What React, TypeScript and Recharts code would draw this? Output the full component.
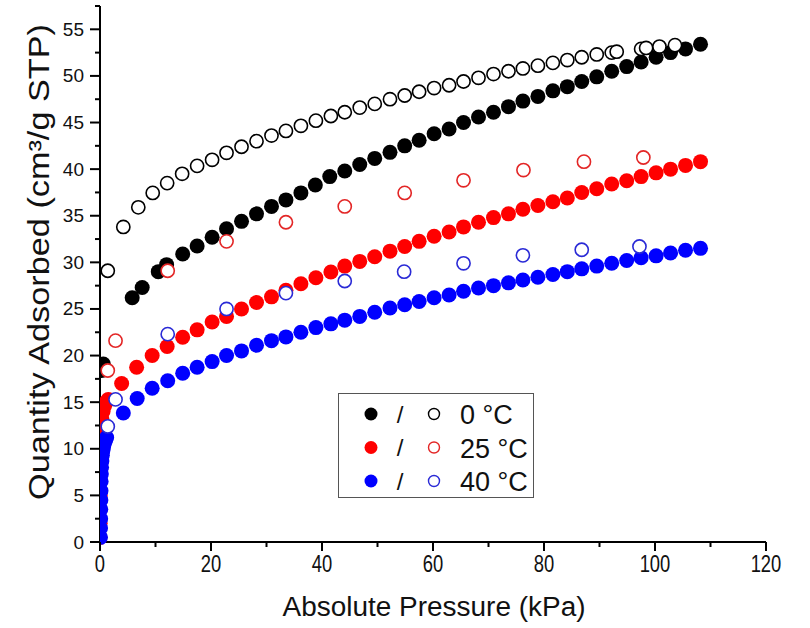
import React from 'react';
import { ScatterChart, Scatter, XAxis, YAxis } from 'recharts';

// 0 °C adsorption (filled) and desorption (open)
const filled0: [number, number][] = [
  [0.05, 14], [0.3, 18.4], [0.6, 19.1],
  [5.8, 26.2], [7.6, 27.3], [10.5, 29.0], [12.0, 29.75], [14.9, 30.9], [17.5, 31.75], [20.2, 32.7],
  [22.8, 33.6], [25.5, 34.4], [28.2, 35.2], [30.9, 36.0], [33.5, 36.7], [36.2, 37.45], [38.8, 38.3],
  [41.4, 39.2], [44.1, 39.8], [46.8, 40.5], [49.5, 41.15], [52.25, 41.8], [54.9, 42.5], [57.5, 43.1],
  [60.2, 43.8], [62.9, 44.3], [65.5, 45.0], [68.2, 45.6], [70.9, 46.1], [73.6, 46.7], [76.2, 47.3],
  [78.9, 47.8], [81.6, 48.4], [84.2, 48.85], [86.8, 49.4], [89.5, 49.9], [92.2, 50.5], [94.9, 51.0],
  [97.5, 51.5], [100.2, 52.0], [102.8, 52.5], [105.5, 52.9], [108.2, 53.4],
];
const open0: [number, number][] = [
  [1.4, 29.1], [4.2, 33.8], [6.9, 35.9], [9.5, 37.45], [12.1, 38.5], [14.8, 39.5], [17.5, 40.35],
  [20.2, 41.0], [22.8, 41.75], [25.5, 42.4], [28.2, 43.0], [30.9, 43.6], [33.5, 44.1], [36.2, 44.65],
  [38.9, 45.2], [41.6, 45.7], [44.1, 46.1], [46.8, 46.6], [49.5, 47.0], [52.25, 47.5], [54.9, 47.9],
  [57.5, 48.3], [60.2, 48.7], [62.9, 49.0], [65.5, 49.4], [68.2, 49.8], [70.9, 50.2], [73.6, 50.5],
  [76.2, 50.8], [78.9, 51.1], [81.6, 51.4], [84.2, 51.7], [86.8, 52.0], [89.5, 52.3], [92.2, 52.5],
  [93.1, 52.6], [97.5, 52.9], [98.4, 53.0], [100.8, 53.15], [103.6, 53.3],
];

// 25 °C
const filled25: [number, number][] = [
  [0.0, 0.5], [0.02, 2], [0.03, 3.5], [0.04, 5], [0.05, 6.5], [0.06, 8], [0.08, 9.5], [0.1, 11],
  [0.2, 12.2], [0.35, 13.2], [0.55, 14.0], [0.8, 14.6], [1.1, 15.0], [1.5, 15.3],
  [3.9, 17.0], [6.6, 18.75], [9.4, 20.0], [12.1, 20.97], [14.9, 21.97], [17.5, 22.76], [20.2, 23.6],
  [22.8, 24.2], [25.5, 25.0], [28.2, 25.7], [30.9, 26.3], [33.5, 27.0], [36.2, 27.7], [38.9, 28.35],
  [41.6, 28.96], [44.1, 29.6], [46.8, 30.1], [49.5, 30.6], [52.25, 31.2], [54.9, 31.7], [57.5, 32.25],
  [60.2, 32.8], [62.9, 33.25], [65.5, 33.8], [68.2, 34.3], [70.9, 34.8], [73.6, 35.2], [76.2, 35.7],
  [78.9, 36.1], [81.6, 36.5], [84.2, 36.9], [86.8, 37.5], [89.5, 37.9], [92.2, 38.4], [94.9, 38.75],
  [97.5, 39.2], [100.2, 39.6], [102.8, 40.0], [105.5, 40.4], [108.2, 40.8],
];
const open25: [number, number][] = [
  [1.4, 18.4], [2.8, 21.6], [12.2, 29.1], [22.8, 32.25], [33.5, 34.3], [44.1, 36.0], [54.9, 37.45],
  [65.5, 38.8], [76.3, 39.9], [87.2, 40.8], [97.9, 41.25],
];

// 40 °C
const filled40: [number, number][] = [
  [0.08, 0.5], [0.1, 1.5], [0.12, 2.5], [0.14, 3.5], [0.16, 4.5], [0.18, 5.5], [0.2, 6.5], [0.24, 7.3],
  [0.28, 8.0], [0.34, 8.7], [0.42, 9.3], [0.52, 9.8], [0.64, 10.2], [0.8, 10.6], [1.0, 10.9], [1.2, 11.2],
  [4.2, 13.84], [6.7, 15.4], [9.4, 16.5], [12.2, 17.3], [14.9, 18.1], [17.5, 18.74], [20.2, 19.35],
  [22.8, 20.0], [25.5, 20.5], [28.2, 21.1], [30.9, 21.6], [33.5, 22.0], [36.2, 22.5], [38.9, 23.0],
  [41.6, 23.4], [44.1, 23.8], [46.8, 24.2], [49.5, 24.65], [52.25, 25.1], [54.9, 25.45], [57.5, 25.8],
  [60.2, 26.2], [62.9, 26.5], [65.5, 26.9], [68.2, 27.25], [70.9, 27.5], [73.6, 27.8], [76.2, 28.1],
  [78.9, 28.4], [81.6, 28.7], [84.2, 29.0], [86.8, 29.3], [89.5, 29.6], [92.2, 29.9], [94.9, 30.2],
  [97.5, 30.5], [100.2, 30.7], [102.8, 31.0], [105.5, 31.3], [108.2, 31.5],
];
const open40: [number, number][] = [
  [1.4, 12.4], [2.8, 15.3], [12.2, 22.3], [22.8, 25.0], [33.5, 26.7], [44.1, 28.0], [54.8, 29.0],
  [65.5, 29.9], [76.2, 30.75], [86.8, 31.35], [97.2, 31.7],
];

const xTicks = [0, 10, 20, 30, 40, 50, 60, 70, 80, 90, 100, 110, 120];
const yTicks = [0, 2.5, 5, 7.5, 10, 12.5, 15, 17.5, 20, 22.5, 25, 27.5, 30, 32.5, 35, 37.5, 40, 42.5, 45, 47.5, 50, 52.5, 55, 57.5];
const legendLabels = ['0 °C', '25 °C', '40 °C'];

const FONT = '"Liberation Sans", Arial, sans-serif';
const BLACK = '#000000';
const RED = '#ff0000';
const BLUE = '#0000ff';
const RED_OPEN = '#e32626';
const BLUE_OPEN = '#2a2ad6';

const toPts = (arr: [number, number][]) => arr.map(([x, y]) => ({ x, y }));

const Filled = (color: string) => (p: any) => (
  <circle cx={p.cx} cy={p.cy} r={7.5} fill={color} stroke="none" />
);
const Open = (color: string) => (p: any) => (
  <circle cx={p.cx} cy={p.cy} r={6.6} fill="#ffffff" stroke={color} strokeWidth={1.6} />
);

const TICK = 10;

const XTick = (props: any) => {
  const { x, y, payload } = props;
  const axisY = y - TICK;
  const v = payload.value;
  const major = v % 20 === 0;
  return (
    <g>
      <line x1={x} x2={x} y1={axisY} y2={axisY + (major ? 9 : 5)} stroke="#000" strokeWidth={2} />
      {major && (
        <text
          x={x}
          y={axisY + 30}
          textAnchor="middle"
          fontFamily={FONT}
          fontSize={23}
          fill="#111"
          transform={`translate(${x},0) scale(0.8,1) translate(${-x},0)`}
        >
          {v}
        </text>
      )}
    </g>
  );
};

const YTick = (props: any) => {
  const { x, y, payload } = props;
  const axisX = x + TICK;
  const v = payload.value;
  const major = v % 5 === 0;
  return (
    <g>
      <line x1={axisX - (major ? 10 : 5)} x2={axisX} y1={y} y2={y} stroke="#000" strokeWidth={2} />
      {major && (
        <text x={axisX - 16} y={y} textAnchor="end" dominantBaseline="central" fontFamily={FONT} fontSize={19} fill="#111">
          {v}
        </text>
      )}
    </g>
  );
};

const LegendBox = () => {
  const rows = [
    { f: BLACK, o: BLACK, t: legendLabels[0] },
    { f: RED, o: RED_OPEN, t: legendLabels[1] },
    { f: BLUE, o: BLUE_OPEN, t: legendLabels[2] },
  ];
  return (
    <div
      style={{
        position: 'absolute',
        left: 338,
        top: 393,
        width: 196,
        height: 105,
        border: '1.5px solid #555',
        boxSizing: 'border-box',
        background: '#fff',
      }}
    >
      <svg width={193} height={102}>
        {rows.map((r, i) => {
          const cy = 20 + i * 33.5;
          return (
            <g key={i}>
              <circle cx={32} cy={cy} r={6.5} fill={r.f} />
              <text x={61} y={cy} textAnchor="middle" dominantBaseline="central" fontFamily={FONT} fontSize={24} fill="#111">/</text>
              <circle cx={95} cy={cy} r={5.5} fill="#fff" stroke={r.o} strokeWidth={1.4} />
              <text x={121} y={cy + 1} dominantBaseline="central" fontFamily={FONT} fontSize={27} fill="#111">{r.t}</text>
            </g>
          );
        })}
      </svg>
    </div>
  );
};

export default function App() {
  return (
    <div style={{ position: 'absolute', left: 0, top: 0, width: 810, height: 628, background: '#fff' }}>
      <ScatterChart width={810} height={628} margin={{ top: 6, right: 44, bottom: 0, left: 0 }}>
        <XAxis
          type="number"
          dataKey="x"
          domain={[0, 120]}
          allowDataOverflow
          ticks={xTicks}
          interval={0}
          height={86}
          tickSize={TICK}
          tickMargin={0}
          tickLine={false}
          axisLine={{ stroke: '#000', strokeWidth: 2 }}
          tick={<XTick />}
          label={(lp: any) => {
            const vb = lp.viewBox;
            const cx = vb.x + vb.width / 2 + 1;
            return (
              <text
                x={cx}
                y={vb.y + 74}
                textAnchor="middle"
                fontFamily={FONT}
                fontSize={27}
                fill="#111"
                textLength={303}
                lengthAdjust="spacingAndGlyphs"
              >
                Absolute Pressure (kPa)
              </text>
            );
          }}
        />
        <YAxis
          type="number"
          dataKey="y"
          domain={[0, 57.5]}
          ticks={yTicks}
          interval={0}
          width={100}
          tickSize={TICK}
          tickMargin={0}
          tickLine={false}
          axisLine={{ stroke: '#000', strokeWidth: 2 }}
          tick={<YTick />}
          label={() => {
            const cx = 39;
            const cy = 262;
            return (
              <text
                x={cx}
                y={cy}
                textAnchor="middle"
                dominantBaseline="central"
                fontFamily={FONT}
                fontSize={29}
                fill="#111"
                transform={`rotate(-90, ${cx}, ${cy})`}
                textLength={476}
                lengthAdjust="spacingAndGlyphs"
              >
                Quantity Adsorbed (cm³/g STP)
              </text>
            );
          }}
        />
        <Scatter data={toPts(filled0)} shape={Filled(BLACK)} isAnimationActive={false} />
        <Scatter data={toPts(filled25)} shape={Filled(RED)} isAnimationActive={false} />
        <Scatter data={toPts(filled40)} shape={Filled(BLUE)} isAnimationActive={false} />
        <Scatter data={toPts(open0)} shape={Open(BLACK)} isAnimationActive={false} />
        <Scatter data={toPts(open25)} shape={Open(RED_OPEN)} isAnimationActive={false} />
        <Scatter data={toPts(open40)} shape={Open(BLUE_OPEN)} isAnimationActive={false} />
      </ScatterChart>
      <LegendBox />
    </div>
  );
}
